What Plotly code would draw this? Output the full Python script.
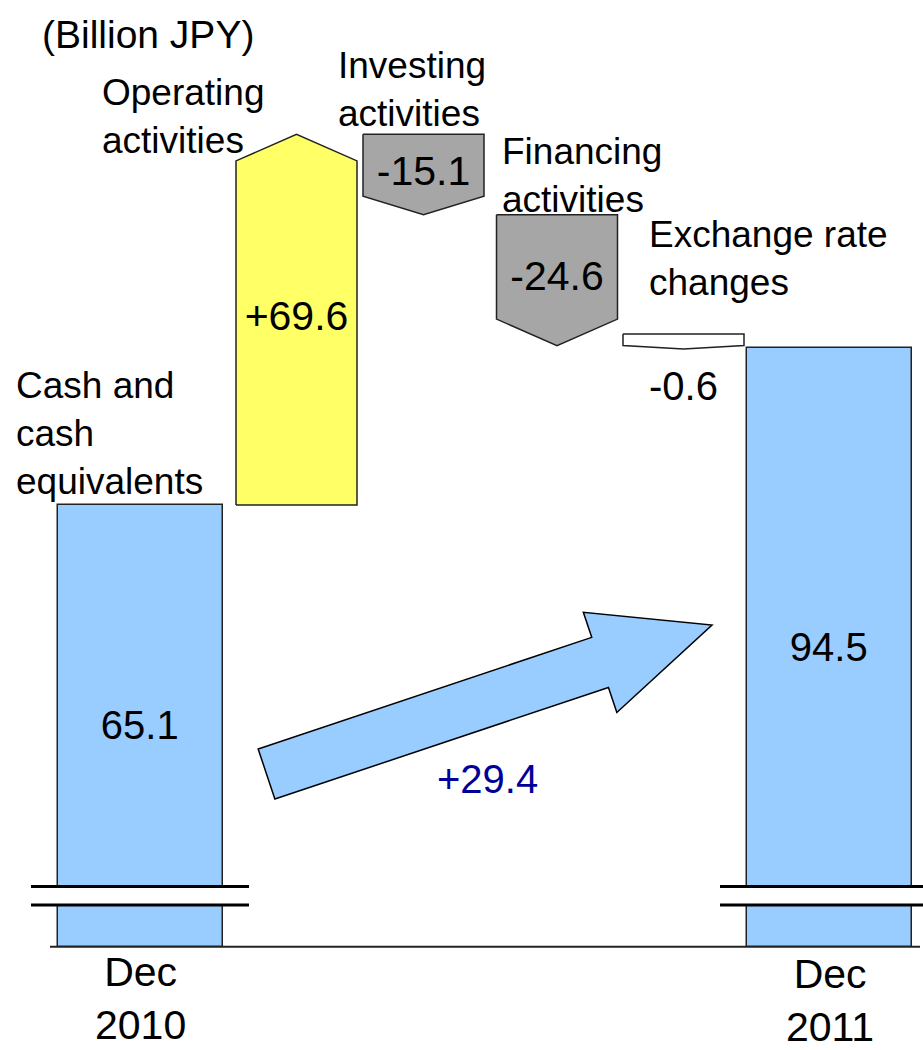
import plotly.graph_objects as go

# Cash flow bridge, billion JPY
period_labels = ["Dec<br>2010", "Dec<br>2011"]
cash_balances = [65.1, 94.5]
flow_names = ["Operating<br>activities", "Investing<br>activities",
              "Financing<br>activities", "Exchange rate<br>changes"]
flow_values = [69.6, -15.1, -24.6, -0.6]
net_change = 29.4
unit_label = "(Billion JPY)"

FONT = "Liberation Sans, Arial, sans-serif"
W, H = 923, 1050
Y_RANGE = [-37.2, 159.9]      # value axis, broken near the bottom
FLOOR = -17.8                 # where the broken bars sit
BREAK = (-6.5, -10.0)         # the two break lines
TOTAL_X = [140.5, 829.5]
TOTAL_W = 165
FLOW_X = [296.5, 423.5, 557, 683.5]
FLOW_W = 121
FLOW_COLORS = ["#FFFF66", "#A6A6A6", "#A6A6A6", "#FFFFFF"]
BLUE = "#99CCFF"
EDGE = "#222222"
MIN_H = 2.8                   # smallest drawn height of a flow shape
HEAD_MAX = 5.0


def to_paper(px, py):
    return px / W, 1 - py / H


def flow_polygon(xc, w, start, end):
    """Pentagon arrow pointing from start level to end level."""
    sign = 1 if end >= start else -1
    if abs(end - start) < MIN_H:
        start = end - sign * MIN_H
    head = min(0.23 * abs(end - start), HEAD_MAX)
    x0, x1 = xc - w / 2, xc + w / 2
    neck = end - sign * head
    xs = [x0, x1, x1, xc, x0, x0]
    ys = [start, start, neck, end, neck, start]
    return xs, ys, (start + end) / 2


def block_arrow(tail, tip, shaft, head, head_len):
    """Block arrow outline in pixel coordinates, returned as an SVG path in paper units."""
    dx, dy = tip[0] - tail[0], tip[1] - tail[1]
    length = (dx ** 2 + dy ** 2) ** 0.5
    ux, uy = dx / length, dy / length
    nx, ny = -uy, ux
    nk = (tip[0] - ux * head_len, tip[1] - uy * head_len)
    pts = [
        (tail[0] + nx * shaft, tail[1] + ny * shaft),
        (nk[0] + nx * shaft, nk[1] + ny * shaft),
        (nk[0] + nx * head, nk[1] + ny * head),
        tip,
        (nk[0] - nx * head, nk[1] - ny * head),
        (nk[0] - nx * shaft, nk[1] - ny * shaft),
        (tail[0] - nx * shaft, tail[1] - ny * shaft),
    ]
    pts = [to_paper(*p) for p in pts]
    return "M " + " L ".join(f"{x:.4f},{y:.4f}" for x, y in pts) + " Z"


fig = go.Figure()

# opening / closing balances
fig.add_trace(go.Bar(
    x=TOTAL_X, y=[v - FLOOR for v in cash_balances], base=FLOOR, width=TOTAL_W,
    marker=dict(color=BLUE, line=dict(color=EDGE, width=1.5)),
    text=[f"{v:.1f}" for v in cash_balances], textposition="inside",
    insidetextanchor="middle", constraintext="none",
    textfont=dict(family=FONT, size=40, color="black"),
    hoverinfo="skip", showlegend=False,
))

# flows as pentagon arrows
level = cash_balances[0]
annotations = []
for xc, v, color in zip(FLOW_X, flow_values, FLOW_COLORS):
    end = level + v
    xs, ys, mid = flow_polygon(xc, FLOW_W, level, end)
    fig.add_trace(go.Scatter(
        x=xs, y=ys, mode="lines", fill="toself", fillcolor=color,
        line=dict(color=EDGE, width=1.5), hoverinfo="skip", showlegend=False,
    ))
    label = f"{v:+.1f}"
    if abs(v) >= MIN_H:
        fig.add_trace(go.Scatter(
            x=[xc], y=[mid], mode="text", text=[label],
            textfont=dict(family=FONT, size=41, color="black"),
            hoverinfo="skip", showlegend=False,
        ))
    else:
        annotations.append(dict(
            x=xc, y=end, xref="x", yref="y", text=label, showarrow=False,
            yanchor="top", yshift=-13, font=dict(family=FONT, size=40, color="black"),
        ))
    level = end

# text labels (pixel positions)
text_spots = [
    (unit_label, 40, 35, "left", 39),
    (flow_names[0], 100, 116, "left", 37),
    (flow_names[1], 336, 89, "left", 37),
    (flow_names[2], 500, 176, "left", 37),
    (flow_names[3], 647, 258, "left", 37),
    ("Cash and<br>cash<br>equivalents", 14, 433, "left", 37),
    (period_labels[0], TOTAL_X[0], 998, "center", 41),
    (period_labels[1], TOTAL_X[1], 1000, "center", 41),
]
for text, px, py, anchor, size in text_spots:
    xp, yp = to_paper(px, py)
    annotations.append(dict(
        x=xp, y=yp, xref="paper", yref="paper", text=text, showarrow=False,
        xanchor=anchor, yanchor="middle", align=anchor,
        font=dict(family=FONT, size=size, color="black"),
    ))

xp, yp = to_paper(487, 803)
annotations.append(dict(
    x=xp, y=yp, xref="paper", yref="paper", text=f"{net_change:+.1f}",
    showarrow=False, font=dict(family=FONT, size=40, color="#000099"),
))

shapes = [
    # base line
    dict(type="line", xref="x", yref="y", x0=50, x1=920, y0=FLOOR, y1=FLOOR,
         line=dict(color=EDGE, width=2), layer="below"),
    # big change arrow
    dict(type="path", xref="paper", yref="paper",
         path=block_arrow((266.5, 774), (712, 625), 26.4, 52.8, 118),
         fillcolor=BLUE, line=dict(color="black", width=1.5)),
]
for xc in TOTAL_X:
    x0, x1 = xc - TOTAL_W / 2 - 27, xc + TOTAL_W / 2 + 26
    shapes.append(dict(type="rect", xref="x", yref="y", x0=x0, x1=x1,
                       y0=BREAK[1], y1=BREAK[0], fillcolor="white", line_width=0))
    for yb in BREAK:
        shapes.append(dict(type="line", xref="x", yref="y", x0=x0, x1=x1,
                           y0=yb, y1=yb, line=dict(color="black", width=3)))

fig.update_layout(
    width=W, height=H, margin=dict(l=0, r=0, t=0, b=0),
    paper_bgcolor="white", plot_bgcolor="white",
    xaxis=dict(range=[0, W], visible=False, fixedrange=True),
    yaxis=dict(range=Y_RANGE, visible=False, fixedrange=True),
    shapes=shapes, annotations=annotations, bargap=0,
    font=dict(family=FONT),
)

# no page margin, so the figure fills the window exactly
fig.write_html("out.html", config={"displayModeBar": False},
               post_script="document.body.style.margin='0';")
